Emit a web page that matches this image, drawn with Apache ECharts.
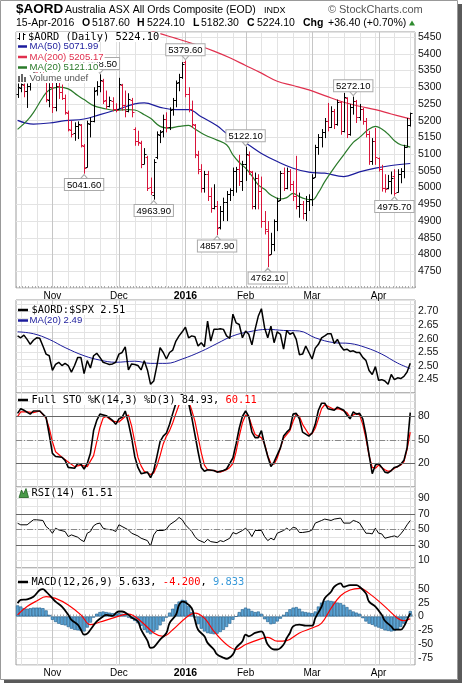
<!DOCTYPE html>
<html><head><meta charset="utf-8">
<script src="https://cdn.jsdelivr.net/npm/echarts@6/dist/echarts.min.js"></script>
<style>html,body{margin:0;padding:0;background:#fff}#c{width:464px;height:685px}</style>
</head><body><div id="c"></div>
<script>
// ---------- DATA ----------
const tradingDays = {
  '2015-10': [16,19,20,21,22,23,26,27,28,29,30],
  '2015-11': [2,3,4,5,6,9,10,11,12,13,16,17,18,19,20,23,24,25,26,27,30],
  '2015-12': [1,2,3,4,7,8,9,10,11,14,15,16,17,18,21,22,23,24,29,30,31],
  '2016-01': [4,5,6,7,8,11,12,13,14,15,18,19,20,21,22,25,27,28,29],
  '2016-02': [1,2,3,4,5,8,9,10,11,12,15,16,17,18,19,22,23,24,25,26,29],
  '2016-03': [1,2,3,4,7,8,9,10,11,14,15,16,17,18,21,22,23,24,29,30,31],
  '2016-04': [1,4,5,6,7,8,11,12,13,14,15]
};
const monthNames = {'2015-11':'Nov','2015-12':'Dec','2016-01':'2016','2016-02':'Feb','2016-03':'Mar','2016-04':'Apr'};

const open = [5280,5298,5308,5288,5305,5322,5345,5335,5355,5328,
5262,5302,5240,5305,5285,5268,5222,5172,5162,5185,
5188,5125,5062,5190,5200,5292,5305,5320,5262,5245,
5260,5236,5235,5308,5248,5228,5262,5175,5140,5132,
5072,5090,5002,4978,5090,5158,5168,5205,5180,5235,
5262,5315,5332,5375,5280,5235,5188,5098,5050,5000,
5040,4975,4940,4945,4882,4930,4958,4982,4992,5050,
5055,5020,5070,5098,5048,4945,5030,4990,4900,4870,
4802,4832,4900,4962,5045,5000,5050,5010,4975,4945,
4950,4925,4960,4965,5032,5120,5150,5165,5200,5180,
5230,5190,5255,5170,5268,5160,5240,5258,5210,5235,
5200,5160,5080,5140,5088,5055,5000,4998,5020,5035,
4988,5040,5050,5122,5187.6];
const high = [5320,5325,5315,5318,5330,5355,5360,5370,5365,5335,
5312,5318,5322,5318,5308,5278,5230,5200,5195,5198,
5190,5130,5200,5210,5300,5318,5338.5,5325,5290,5272,
5270,5252,5328,5310,5290,5282,5268,5180,5170,5140,
5118,5095,5030,5085,5168,5172,5218,5225,5240,5268,
5320,5340,5375,5379.6,5300,5260,5190,5110,5070,5050,
5050,5000,5010,4960,4945,4970,4990,4998,5060,5062,
5098,5080,5122.1,5108,5050,5045,5040,5033,4930,4900,
4865,4905,4970,5050,5060,5060,5055,5020,5095,4985,
4960,4975,4980,5040,5128,5160,5175,5208,5253,5243,
5235,5263,5258,5283,5270,5250,5272.1,5262,5250,5238,
5208,5170,5148,5178,5090,5068,5040,5038,5048,5055,
5055,5058,5128,5208,5224.1];
const low = [5268,5285,5270,5238,5290,5320,5325,5330,5320,5255,
5240,5223,5228,5265,5262,5218,5168,5150,5140,5145,
5120,5041.6,5060,5150,5195,5275,5285,5250,5235,5240,
5228,5225,5235,5230,5210,5225,5210,5125,5125,5058,
5070,4990,4978,4963.9,5085,5133,5150,5165,5172,5215,
5240,5288,5325,5270,5225,5178,5088,5040,4985,4985,
4960,4925,4935,4857.9,4875,4900,4900,4960,4975,4985,
5005,4990,5020,5038,4935,4935,4935,4880,4860,4762.1,
4800,4810,4870,4960,4990,4995,4990,4960,4935,4910,
4905,4900,4930,4945,5030,5098,5120,5148,5168,5178,
5175,5185,5158,5165,5148,5155,5218,5193,5200,5188,
5150,5068,5068,5068,5048,4988,4985,4995,4980,4975.7,
4985,5013,5028,5120,5182.3];
const close = [5300,5310,5290,5305,5320,5345,5335,5360,5330,5265,
5300,5240,5305,5285,5268,5225,5175,5160,5185,5190,
5128,5060,5192,5198,5290,5305,5322,5260,5245,5262,
5236,5232,5310,5248,5228,5265,5225,5140,5135,5070,
5100,5000,4986,5078,5160,5165,5205,5180,5232,5262,
5312,5330,5370,5280,5235,5190,5100,5055,5000,5040,
4975,4940,4945,4880,4930,4958,4982,4992,5050,5055,
5020,5070,5100,5050,4945,5030,4990,4900,4875,4800,
4830,4900,4960,5045,5000,5050,5010,4975,4945,4950,
4925,4960,4965,5030,5120,5150,5165,5200,5180,5230,
5190,5255,5170,5270,5160,5240,5260,5210,5235,5200,
5160,5080,5140,5090,5055,5000,4995,5020,5030,4985,
5040,5050,5120,5187.7,5224.1];

// moving averages: [barIndex, value]
const ma50 = [[0,5201],[5,5190],[10,5193],[15,5200],[21,5205],[26,5218],[31,5232],[37,5250],[40,5253],[45,5240],[50,5233],[54,5233],[58,5212],[63,5185],[66,5162],[72,5133],[77,5102],[82,5078],[87,5058],[92,5046],[97,5043],[103,5033],[108,5047],[113,5058],[118,5066],[124,5071.99]];
const ma200 = [[30,5505],[35,5490],[40,5475],[45,5460],[50,5446],[56,5428],[62,5408],[67,5388],[72,5365],[77,5342],[82,5318],[87,5305],[92,5292],[97,5275],[103,5255],[108,5243],[113,5233],[118,5220],[124,5205.17]];
const ma20 = [[0,5174],[3,5200],[5,5224],[8,5270],[10,5292],[13,5300],[16,5295],[19,5275],[21,5263],[24,5245],[27,5237],[31,5231],[35,5233],[37,5232],[40,5218],[42,5207],[45,5183],[48,5178],[51,5183],[54,5186],[56,5175],[59,5158],[63,5142],[66,5128],[68,5098],[70,5075],[72,5058],[74,5035],[76,5008],[78,4995],[80,4978],[83,4966],[85,4970],[87,4983],[89,4973],[91,4966],[93,4963],[95,4985],[97,5018],[100,5060],[103,5098],[106,5135],[108,5150],[111,5175],[113,5183],[115,5175],[117,5160],[119,5140],[121,5128],[123,5124],[124,5121.1]];
const annHighIdx = [26,53,72,106];
const annLowIdx = [21,43,63,79,119];

const ratio = [2.610,2.603,2.613,2.597,2.579,2.594,2.603,2.601,2.573,2.543,
2.537,2.483,2.505,2.513,2.501,2.509,2.501,2.477,2.501,2.531,
2.531,2.471,2.519,2.492,2.537,2.546,2.531,2.513,2.509,2.505,
2.507,2.513,2.543,2.549,2.570,2.485,2.507,2.505,2.501,2.485,
2.519,2.485,2.432,2.444,2.501,2.567,2.549,2.525,2.549,2.558,
2.591,2.610,2.625,2.642,2.603,2.610,2.607,2.573,2.585,2.570,
2.664,2.591,2.634,2.634,2.636,2.634,2.610,2.601,2.690,2.658,
2.652,2.603,2.628,2.616,2.577,2.634,2.682,2.710,2.640,2.603,
2.646,2.585,2.625,2.616,2.561,2.630,2.616,2.622,2.597,2.541,
2.543,2.573,2.549,2.525,2.565,2.579,2.603,2.610,2.618,2.618,
2.582,2.597,2.573,2.558,2.561,2.553,2.555,2.549,2.549,2.531,
2.520,2.483,2.468,2.497,2.447,2.449,2.444,2.432,2.468,2.449,
2.456,2.453,2.461,2.477,2.509];
const ratioMa = [[0,2.625],[5,2.618],[10,2.597],[15,2.567],[21,2.537],[26,2.521],[31,2.513],[37,2.517],[42,2.509],[47,2.509],[52,2.525],[58,2.553],[63,2.582],[68,2.610],[73,2.625],[79,2.634],[84,2.630],[89,2.628],[94,2.603],[100,2.585],[105,2.582],[110,2.567],[115,2.543],[120,2.510],[124,2.49]];

const stoK = [[0,84],[1,90],[2,88],[4,83],[5,87],[7,87],[9,79],[10,57],[11,33],[12,29],[14,28],[15,24],[16,15],[18,14],[19,20],[20,19],[21,13],[22,20],[23,33],[24,62],[25,75],[26,83],[28,81],[30,75],[31,70],[32,77],[33,79],[34,87],[35,72],[36,53],[37,29],[38,15],[39,7],[41,9],[42,2],[43,11],[44,29],[45,48],[46,55],[47,59],[48,70],[49,84],[50,97],[51,106],[52,108],[53,103],[54,97],[55,79],[56,57],[57,35],[58,15],[59,10],[60,12],[62,11],[63,9],[65,11],[66,13],[68,27],[69,45],[70,65],[71,80],[72,87],[73,80],[74,60],[75,53],[76,53],[77,62],[78,44],[79,29],[80,16],[81,22],[83,40],[84,55],[85,60],[86,64],[87,83],[88,84],[89,77],[90,60],[92,55],[93,59],[94,70],[95,88],[96,97],[97,97],[98,90],[100,88],[101,92],[103,88],[104,82],[105,77],[106,86],[107,83],[108,84],[109,77],[110,57],[111,31],[112,7],[113,18],[114,20],[115,15],[116,9],[117,8],[118,11],[119,15],[120,16],[121,19],[122,24],[123,40],[124,84.93]];
const stoD = [[0,80],[1,86],[3,86],[5,85],[7,87],[9,78],[10,65],[11,48],[12,35],[14,28],[16,22],[18,16],[20,18],[22,16],[24,30],[25,48],[26,66],[27,78],[28,80],[30,74],[32,73],[34,80],[35,82],[36,68],[37,48],[38,28],[39,17],[40,10],[42,6],[43,8],[44,17],[45,30],[46,45],[47,55],[48,62],[49,72],[50,84],[51,95],[52,103],[53,104],[54,100],[55,88],[56,74],[57,54],[58,34],[59,18],[60,12],[62,11],[64,9],[66,12],[67,15],[68,20],[69,35],[70,55],[71,72],[72,82],[73,80],[74,68],[75,57],[77,53],[78,45],[79,30],[80,20],[81,19],[82,27],[83,40],[84,52],[86,62],[87,74],[88,83],[89,80],[90,70],[92,57],[93,58],[94,65],[95,77],[96,90],[97,95],[98,93],[100,89],[101,90],[102,89],[104,85],[105,79],[106,82],[107,84],[108,82],[109,70],[110,52],[111,30],[112,15],[113,14],[114,18],[115,15],[116,12],[117,10],[118,11],[119,14],[120,16],[121,18],[122,22],[123,38],[124,60.11]];

const rsi = [[0,58],[1,56],[3,56],[5,62.5],[6,62.5],[8,61.6],[9,53.8],[10,50.3],[11,45],[12,51.6],[13,49.4],[15,47.3],[16,40.7],[17,42.9],[19,39.9],[20,36.4],[21,34.2],[22,45.1],[23,47.3],[24,54.7],[25,57.3],[26,58.2],[27,51.6],[28,50.3],[30,49.4],[31,47.3],[32,56],[33,53.8],[35,49.4],[36,45.1],[38,41.6],[39,38.6],[41,35.5],[42,28.5],[43,42.9],[44,48.6],[46,48.6],[47,50.3],[48,56],[50,61.6],[51,65.6],[52,62.5],[53,56],[55,47.3],[56,40.7],[57,36.4],[59,32.9],[60,37.2],[61,34.2],[63,32.9],[64,35.5],[65,34.2],[67,38.6],[68,46],[69,44.2],[71,48.6],[72,51.6],[73,47.3],[74,40.7],[75,48.6],[77,48.6],[78,40.7],[79,35.5],[80,38.6],[81,36.4],[82,45.1],[84,48.6],[85,51.6],[86,48.6],[87,52.9],[88,51.6],[89,46],[90,46],[92,47.3],[93,49.4],[94,58.2],[96,61.6],[97,63.4],[99,61.6],[100,63.4],[102,64.7],[103,58.2],[105,58.2],[106,61.6],[107,60.3],[108,58.2],[109,51.6],[110,45.1],[111,45],[112,44.2],[113,51.6],[114,45.1],[115,44.2],[116,38.6],[118,40.7],[119,41.6],[120,39.9],[121,44.2],[122,49.4],[123,56],[124,61.51]];

const macd = [[0,23.8],[1,29.8],[3,31],[5,35.8],[7,47.7],[8,49.4],[9,44.7],[11,32.8],[12,26.8],[14,17.9],[16,3],[17,-5.9],[19,-14.8],[20,-23.8],[21,-32.7],[22,-30.9],[23,-23.8],[25,-8.9],[27,0],[28,3],[30,1.2],[31,6],[32,9],[33,9],[35,3],[36,-1.8],[38,-8.9],[39,-23.8],[41,-43.4],[42,-56.5],[43,-55.3],[45,-41.6],[47,-29.7],[48,-11.9],[50,3],[51,20.9],[52,26.8],[53,25.6],[55,14.9],[56,-5.9],[57,-23.8],[59,-35.7],[60,-47.6],[62,-59.5],[63,-68.4],[65,-74.4],[66,-76.2],[68,-68.4],[69,-56.5],[71,-44.6],[72,-32.7],[73,-35.7],[75,-29.7],[77,-26.8],[78,-35.7],[79,-50.6],[81,-59.5],[82,-59.5],[84,-50.6],[85,-38.7],[86,-29.7],[87,-17.8],[89,-14.8],[91,-16.6],[93,-16.6],[94,-3],[96,17.9],[97,32.8],[99,44.7],[100,53.6],[102,59.6],[103,53.6],[105,56.6],[107,56.6],[108,53.6],[110,41.7],[111,26.8],[113,17.9],[115,3],[116,-7.7],[118,-17.8],[119,-23.8],[121,-23.8],[122,-17.8],[123,-5.9],[124,5.633]];
const signal = [[0,3],[3,17.9],[6,28],[9,35.8],[12,32.8],[16,20.9],[20,3],[23,-14.8],[26,-10],[30,-3],[35,4.2],[39,-8.9],[43,-29.7],[46,-35.7],[49,-23.8],[53,-3],[56,6],[59,-3],[62,-26.8],[66,-50.6],[69,-59.5],[72,-50.6],[77,-39.8],[79,-37.5],[82,-44.6],[85,-43.4],[89,-29.7],[93,-20.8],[96,-11.9],[99,14.9],[102,37.5],[105,47.7],[108,50.6],[111,41.7],[116,17.9],[120,-3],[122,-7.7],[124,-4.2]];
const hist = [20,18,15,14,15,16,16,16,15,11,
3,-6,-10,-13,-15,-16,-19,-22,-24,-25,
-26,-27,-20,-11,-2,5,8,9,8,7,
6,5,6,5,3,-2,-4,-8,-12,-17,
-24,-29,-32,-28,-24,-16,-9,-2,7,14,
22,27,30,29,19,8,-2,-14,-22,-27,
-30,-31,-32,-31,-28,-24,-19,-13,-6,0,
8,13,16,14,10,8,9,5,-5,-10,
-14,-13,-9,-4,3,8,13,16,17,14,
9,8,7,6,9,18,25,28,29,28,
27,25,24,21,17,12,9,7,5,-3,
-9,-13,-15,-18,-20,-22,-25,-26,-27,-26,
-23,-19,-13,-3,9.833];

// ---------- BUILD ----------
const dates = [], monthStarts = [];
Object.keys(tradingDays).forEach(m => {
  tradingDays[m].forEach((d, k) => {
    if (k === 0 && monthNames[m]) monthStarts.push(dates.length);
    dates.push(m + '-' + String(d).padStart(2, '0'));
  });
});
const cats = dates.concat(['']);
const monthSet = new Set(monthStarts);
const weekLines = [];
monthStarts.forEach((m, k) => {
  const end = k + 1 < monthStarts.length ? monthStarts[k + 1] : dates.length;
  for (let j = m + 5; j < end; j += 5) weekLines.push(j);
});
for (let j = monthStarts[0] - 5; j >= 0; j -= 5) weekLines.push(j);
const vlines = monthStarts.map(i => [i, 1]).concat(weekLines.map(i => [i, 0]));

const SANS = '"Liberation Sans", Arial, sans-serif';
const MONO = '"DejaVu Sans Mono", "Liberation Mono", monospace';
const RED = '#d8143a';
const NAVY = '#1c1c9c';
const MA200C = '#e0304e';
const GREEN = '#2a7a2a';

const G = [
  {top: 32, height: 256}, {top: 300, height: 93}, {top: 393, height: 94},
  {top: 487, height: 81}, {top: 568, height: 97}
].map(g => Object.assign({left: 16, width: 399, show: true, borderColor: '#9c9c9c', borderWidth: 1, backgroundColor: '#fff'}, g));

const monthLabel = (v) => { const n = monthNames[String(v).slice(0, 7)]; return n === '2016' ? '{b|2016}' : (n || ''); };
const xAxes = G.map((g, k) => ({
  type: 'category', gridIndex: k, data: cats, boundaryGap: true,
  axisLine: {show: false},
  axisTick: {show: k === 0 || k === 4, inside: true, length: 2, interval: 0, lineStyle: {color: '#aaa'}},
  axisLabel: {show: k === 0 || k === 4, interval: (idx) => monthSet.has(idx), formatter: monthLabel, margin: 3,
    fontSize: 10, color: '#000', fontFamily: SANS,
    rich: {b: {fontWeight: 'bold', fontSize: 10.5, fontFamily: SANS, color: '#000'}}},
  splitLine: {show: false}
}));
const gridLineStyle = {color: '#e3e3e3', width: 1};
function yAx(k, min, max, interval, fmt) {
  return {type: 'value', gridIndex: k, position: 'right', min, max, interval, scale: true,
    axisLine: {show: false}, axisTick: {show: false},
    axisLabel: {formatter: fmt, margin: 3, fontSize: 10.5, color: '#111', fontFamily: SANS, showMinLabel: false, showMaxLabel: false},
    splitLine: {show: true, lineStyle: gridLineStyle}};
}
const yAxes = [
  yAx(0, 4700, 5465, 50, v => (v >= 4750 && v <= 5450 && v % 50 === 0) ? String(v) : ''),
  yAx(1, 2.40, 2.742, 0.025, v => { const r = Math.round(v * 1000); return (r % 50 === 0 && r >= 2450 && r <= 2700) ? (r / 1000).toFixed(2) : ''; }),
  yAx(2, -10, 110, 10, v => (v === 20 || v === 50 || v === 80) ? String(v) : ''),
  yAx(3, 0, 105, 10, v => [10, 30, 50, 70, 90].includes(v) ? String(v) : ''),
  yAx(4, -87.5, 87.5, 12.5, v => (v % 25 === 0 && v >= -75 && v <= 50) ? String(v) : '')
];

function vlineSeries(k) {
  return {type: 'custom', xAxisIndex: k, yAxisIndex: k, z: 1, silent: true, clip: false,
    encode: {x: 0, y: 1}, data: vlines,
    renderItem: (params, api) => {
      const x = Math.round(api.coord([api.value(0), 0])[0]) + 0.5;
      const cs = params.coordSys;
      return {type: 'line', shape: {x1: x, y1: cs.y, x2: x, y2: cs.y + cs.height},
        style: {stroke: api.value(1) ? '#c6c6c6' : '#e3e3e3', lineWidth: 1}};
    }};
}

const ohlcData = close.map((c, i) => [i, open[i], high[i], low[i], c, (i > 0 && c < close[i - 1]) ? 1 : 0]);

const annLabelBase = {show: true, formatter: p => p.value, fontSize: 9.5, fontFamily: SANS, color: '#000',
  backgroundColor: '#fff', borderColor: '#aaa', borderWidth: 1, padding: [1, 2, 0, 2], distance: 0};
const annItem = {color: '#fff', borderColor: '#aaa', borderWidth: 1};
const annData = annHighIdx.map(i => ({coord: [i, high[i]], value: high[i].toFixed(2), symbol: 'triangle', symbolSize: [7, 4],
    symbolRotate: 180, symbolOffset: [0, -3], itemStyle: annItem, label: Object.assign({}, annLabelBase, {position: 'top'})}))
  .concat(annLowIdx.map(i => ({coord: [i, low[i]], value: low[i].toFixed(2), symbol: 'triangle', symbolSize: [7, 4],
    symbolOffset: [0, 3], itemStyle: annItem, label: Object.assign({}, annLabelBase, {position: 'bottom'})})));

function lineS(k, data, color, width, extra) {
  return Object.assign({type: 'line', xAxisIndex: k, yAxisIndex: k, data, showSymbol: false, symbol: 'none', silent: true,
    lineStyle: {color, width}, z: 2}, extra || {});
}
const refLines = (vals, dashVal) => ({silent: true, symbol: 'none', label: {show: false}, animation: false,
  data: vals.map(v => ({yAxis: v, lineStyle: {color: '#666', width: 1, type: 'solid'}}))
    .concat([{yAxis: dashVal, lineStyle: {color: '#888', width: 1, type: [6, 2, 1, 2]}}])});

const series = [0, 1, 2, 3, 4].map(vlineSeries).concat([
  lineS(0, ma200, MA200C, 1.2, {smooth: 0.4}),
  lineS(0, ma50, NAVY, 1.2, {smooth: 0.4, markPoint: {silent: true, animation: false, data: annData}}),
  lineS(0, ma20, GREEN, 1.2, {smooth: 0.4}),
  {type: 'custom', xAxisIndex: 0, yAxisIndex: 0, z: 3, silent: true, clip: true,
    encode: {x: 0, y: [1, 2, 3, 4]}, data: ohlcData,
    renderItem: (params, api) => {
      const i = api.value(0);
      const x = Math.round(api.coord([i, api.value(2)])[0]) + 0.5;
      const yH = api.coord([i, api.value(2)])[1], yL = api.coord([i, api.value(3)])[1];
      const yO = Math.round(api.coord([i, api.value(1)])[1]) + 0.5, yC = Math.round(api.coord([i, api.value(4)])[1]) + 0.5;
      const st = {stroke: api.value(5) ? RED : '#000', lineWidth: 1};
      return {type: 'group', children: [
        {type: 'line', shape: {x1: x, y1: yH, x2: x, y2: yL}, style: st},
        {type: 'line', shape: {x1: x - 2, y1: yO, x2: x, y2: yO}, style: st},
        {type: 'line', shape: {x1: x, y1: yC, x2: x + 2, y2: yC}, style: st}
      ]};
    }},
  lineS(1, ratioMa, NAVY, 1, {smooth: 0.4}),
  lineS(1, ratio, '#000', 1.5),
  lineS(2, stoD, '#ff0000', 1.2, {markLine: refLines([80, 20], 50)}),
  lineS(2, stoK, '#000', 1.6),
  lineS(3, rsi, '#000', 1, {markLine: refLines([70, 30], 50)}),
  {type: 'bar', xAxisIndex: 4, yAxisIndex: 4, data: hist, barCategoryGap: '0%', silent: true, z: 2,
    itemStyle: {color: '#5ba4d4', borderColor: '#1e5b88', borderWidth: 0.6}},
  lineS(4, signal, '#ff0000', 1.2, {smooth: 0.4}),
  lineS(4, macd, '#000', 1.8, {smooth: 0.4})
]);

// ---------- GRAPHIC (header, legends, frame) ----------
function T(x, y, text, font, fill, bg, extra) {
  const s = {text, font, fill: fill || '#000', verticalAlign: 'middle', align: 'left'};
  if (bg) { s.backgroundColor = '#fff'; s.padding = [0, 1, 0, 1]; s.lineHeight = 10; }
  return Object.assign({type: 'text', x, y, z: 100, silent: true, style: s}, extra || {});
}
function L(x1, y1, x2, y2, color, w) {
  return {type: 'line', z: 101, silent: true, shape: {x1, y1, x2, y2}, style: {stroke: color, lineWidth: w || 1}};
}
function R(x, y, w, h, fill, stroke) {
  return {type: 'rect', z: 99, silent: true, shape: {x, y, width: w, height: h}, style: {fill: fill || 'none', stroke: stroke || null}};
}
const F10 = `10.5px ${SANS}`, B10 = `bold 10.5px ${SANS}`;
const LEG = `9.6px ${SANS}`, MF = `10.4px ${MONO}`;
const graphic = [
  // frame
  R(0.5, 0.5, 457, 679, 'none', '#999'),
  R(458, 4, 4, 679, '#5a5a5a'),
  R(4, 680, 458, 3, '#5a5a5a'),
  // header
  T(16, 9.5, '$AORD', `bold 13.5px ${SANS}`),
  T(65, 10, 'Australia ASX All Ords Composite (EOD)', `10.5px ${SANS}`),
  T(264, 10.5, 'INDX', `9px ${SANS}`),
  T(328, 10, '\u00A9', `11px ${SANS}`, '#666'),
  T(339, 10, 'StockCharts.com', `11px ${SANS}`, '#555'),
  T(16, 23.5, '15-Apr-2016', F10),
  T(82, 23.5, 'O', B10), T(92, 23.5, '5187.60', F10),
  T(137, 23.5, 'H', B10), T(147, 23.5, '5224.10', F10),
  T(193, 23.5, 'L', B10), T(201, 23.5, '5182.30', F10),
  T(247, 23.5, 'C', B10), T(257, 23.5, '5224.10', F10),
  T(303, 23.5, 'Chg', B10), T(328, 23.5, '+36.40 (+0.70%)', F10),
  {type: 'polygon', z: 100, silent: true, shape: {points: [[409, 25.5], [415, 25.5], [412, 20.5]]}, style: {fill: '#2e8b2e'}},
  // main legend
  R(16.5, 32.5, 12, 51, '#fff'),
  L(19.5, 33, 19.5, 40, '#000'), L(17.5, 38.5, 19.5, 38.5, '#000'),
  L(23.5, 33, 23.5, 40, '#000'), L(23.5, 34.5, 25.5, 34.5, '#000'),
  T(27, 37, '$AORD (Daily) 5224.10', MF, '#000', true),
  L(18, 46.5, 27, 46.5, NAVY, 2.5), T(28.5, 46.5, 'MA(50) 5071.99', LEG, NAVY, true),
  L(18, 57, 27, 57, MA200C, 2.5), T(28.5, 57, 'MA(200) 5205.17', LEG, MA200C, true),
  L(18, 67.5, 27, 67.5, GREEN, 2.5), T(28.5, 67.5, 'MA(20) 5121.10', LEG, GREEN, true),
  R(18, 76, 2, 6, '#666'), R(21, 74, 2, 8, '#666'), R(24, 77, 2, 5, '#666'),
  T(28.5, 78, 'Volume undef', LEG, '#555', true),
  // ratio legend
  L(18, 310, 28, 310, '#000', 2.5), T(30.5, 310, '$AORD:$SPX 2.51', MF, '#000', true),
  L(18, 320.5, 28, 320.5, NAVY, 2.5), T(28.5, 320.5, 'MA(20) 2.49', LEG, NAVY, true),
  // STO legend
  L(18, 400, 28, 400, '#000', 2.5),
  {type: 'text', x: 30.5, y: 400, z: 100, silent: true, style: {text: '{k|Full STO %K(14,3) %D(3) 84.93, }{r|60.11}', font: MF,
    verticalAlign: 'middle', backgroundColor: '#fff', padding: [0, 1, 0, 1],
    rich: {k: {fill: '#000', font: MF}, r: {fill: '#ff0000', font: MF}}}},
  // RSI legend
  {type: 'polygon', z: 101, silent: true, shape: {points: [[19, 497.5], [21.5, 490], [23.5, 494], [26, 488.5], [28.5, 497.5]]},
    style: {fill: '#4a9a4a', stroke: '#1f5f1f', lineWidth: 0.8}},
  T(30.5, 493, 'RSI(14) 61.51', MF, '#000', true),
  // MACD legend
  L(18, 582, 28, 582, '#000', 2.5),
  {type: 'text', x: 30.5, y: 582, z: 100, silent: true, style: {text: '{k|MACD(12,26,9) 5.633, }{r|-4.200}{k|, }{b|9.833}', font: MF,
    verticalAlign: 'middle', backgroundColor: '#fff', padding: [0, 1, 0, 1],
    rich: {k: {fill: '#000', font: MF}, r: {fill: '#ff0000', font: MF}, b: {fill: '#3a9ad9', font: MF}}}}
];

const chart = echarts.init(document.getElementById('c'), null, {renderer: 'canvas', width: 464, height: 685});
chart.setOption({
  animation: false,
  backgroundColor: '#fff',
  grid: G, xAxis: xAxes, yAxis: yAxes, series, graphic
});
</script></body></html>
